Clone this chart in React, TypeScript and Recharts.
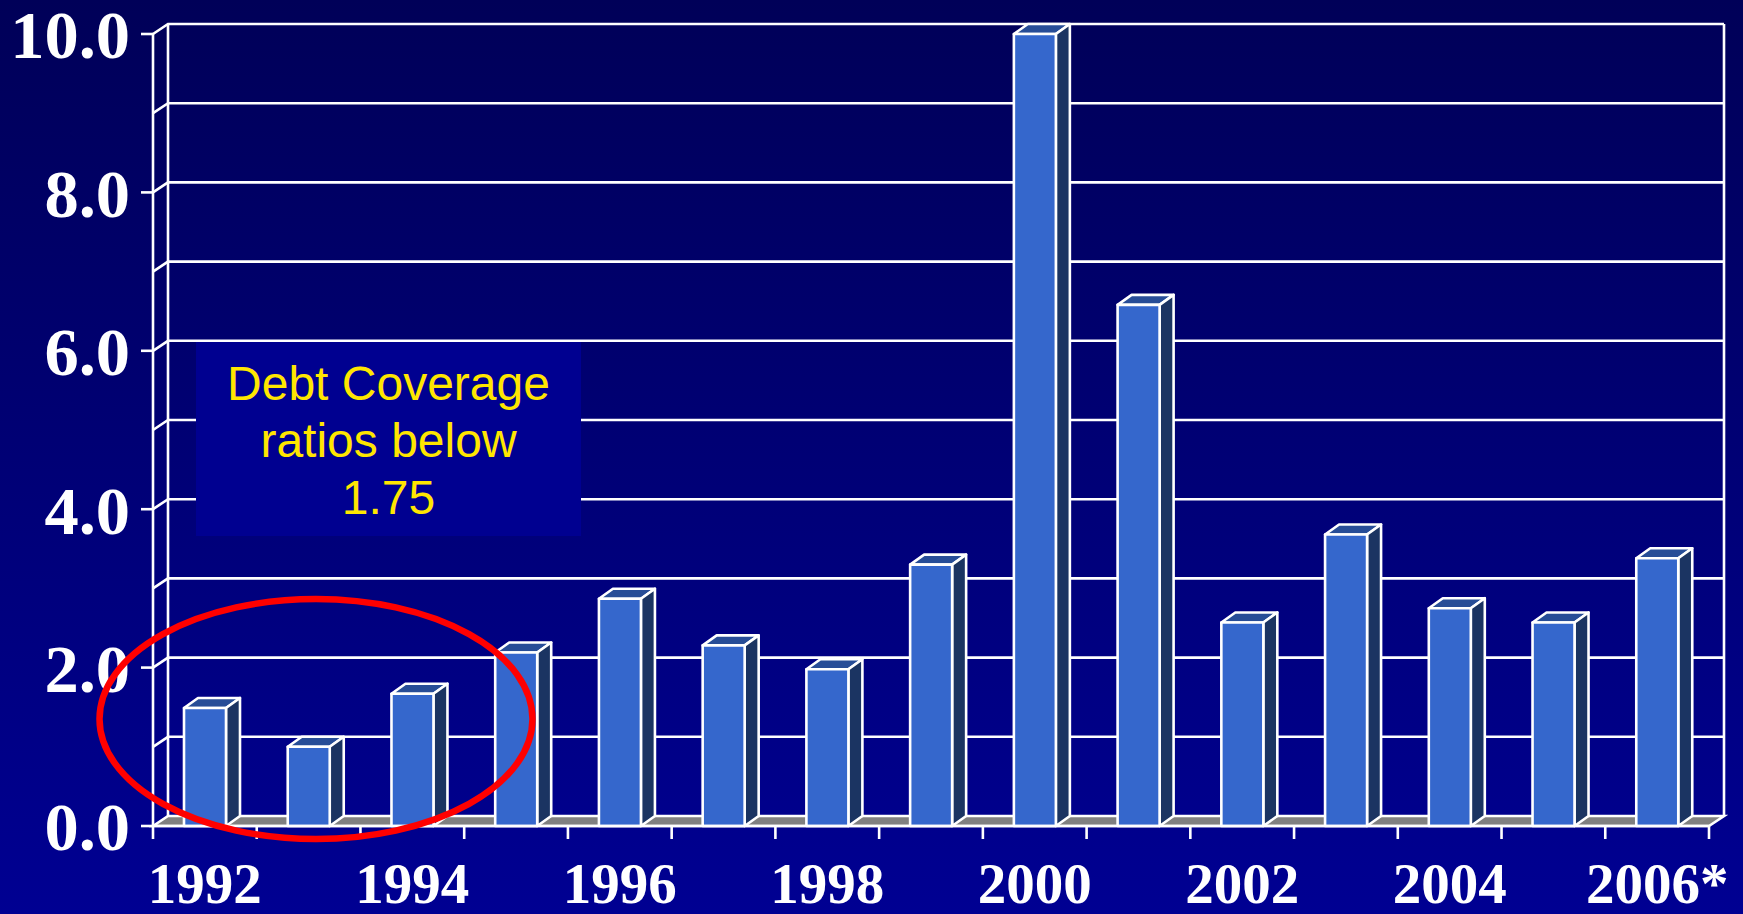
import React from "react";
import { BarChart, Bar, XAxis, YAxis, CartesianGrid } from "recharts";

const years = ["1992", "1993", "1994", "1995", "1996", "1997", "1998", "1999", "2000", "2001", "2002", "2003", "2004", "2005", "2006*"];
const ratios = [1.49, 1.0, 1.67, 2.19, 2.87, 2.28, 1.98, 3.3, 10.0, 6.58, 2.57, 3.68, 2.75, 2.57, 3.38];
const yTicks = [0, 2, 4, 6, 8, 10];
const gridValues = [0, 1, 2, 3, 4, 5, 6, 7, 8, 9, 10];
const noteLines = ["Debt Coverage", "ratios below", "1.75"];

const WIDTH = 1743;
const HEIGHT = 914;
const LEFT = 153;
const RIGHT = 1709;
const TOP = 34;
const BOTTOM = 826;
const DEPTH_X = 15;
const DEPTH_Y = 10;
const BAND = (RIGHT - LEFT) / years.length;
const STROKE = 2.6;
const SERIF = "'Liberation Serif', serif";

const chartData = years.map((year, i) => ({ year, ratio: ratios[i] }));

// front, top and side faces of one extruded bar
function Bar3D({ x, y, width, height }: any) {
  const dx = 14;
  const dy = DEPTH_Y;
  const right = x + width;
  const bottom = y + height;
  const line = { stroke: "#fff", strokeWidth: STROKE, strokeLinejoin: "round" as const };
  return (
    <g>
      <polygon points={`${x},${y} ${x + dx},${y - dy} ${right + dx},${y - dy} ${right},${y}`} fill="#274d97" {...line} />
      <polygon points={`${right},${y} ${right + dx},${y - dy} ${right + dx},${bottom - dy} ${right},${bottom}`} fill="#1b3462" {...line} />
      <rect x={x} y={y} width={width} height={height} fill="#3567cc" {...line} />
    </g>
  );
}

// back wall line plus the short slant on the left wall; value 0 becomes the floor
function GridLine({ x1, y1, x2 }: any) {
  if (Math.abs(y1 - BOTTOM) < 1) {
    return (
      <polygon
        points={`${x1},${y1} ${x1 + DEPTH_X},${y1 - DEPTH_Y} ${x2 + DEPTH_X},${y1 - DEPTH_Y} ${x2},${y1}`}
        fill="#808080"
        stroke="#fff"
        strokeWidth={STROKE}
      />
    );
  }
  return (
    <polyline
      points={`${x1},${y1} ${x1 + DEPTH_X},${y1 - DEPTH_Y} ${x2 + DEPTH_X},${y1 - DEPTH_Y}`}
      fill="none"
      stroke="#fff"
      strokeWidth={STROKE}
    />
  );
}

function WallLine({ x1, y1, y2 }: any) {
  return <line x1={x1 + DEPTH_X} y1={y1 - DEPTH_Y} x2={x1 + DEPTH_X} y2={y2 - DEPTH_Y} stroke="#fff" strokeWidth={STROKE} />;
}

// ticks sit on the category boundaries, labels on every other centre
function YearTick({ x, y, payload, index }: any) {
  const left = x - BAND / 2;
  const isLast = index === years.length - 1;
  return (
    <g>
      <line x1={left} y1={BOTTOM} x2={left} y2={BOTTOM + 13} stroke="#fff" strokeWidth={STROKE} />
      {isLast && <line x1={left + BAND} y1={BOTTOM} x2={left + BAND} y2={BOTTOM + 13} stroke="#fff" strokeWidth={STROKE} />}
      {index % 2 === 0 && (
        <text x={x} y={y + 75} textAnchor="middle" fill="#fff" fontFamily={SERIF} fontWeight="bold" fontSize={57}>
          {payload.value}
        </text>
      )}
    </g>
  );
}

export default function App() {
  return (
    <div
      style={{
        position: "absolute",
        left: 0,
        top: 0,
        width: WIDTH,
        height: HEIGHT,
        background: "linear-gradient(#000058, #000092)",
      }}
    >
      <BarChart
        width={WIDTH}
        height={HEIGHT}
        data={chartData}
        margin={{ top: TOP, right: WIDTH - RIGHT, bottom: 0, left: 0 }}
        barSize={42}
      >
        <CartesianGrid
          horizontalValues={gridValues}
          verticalCoordinatesGenerator={() => [LEFT, RIGHT]}
          horizontal={(p: any) => <GridLine key={p.index} {...p} />}
          vertical={(p: any) => <WallLine key={p.index} {...p} />}
        />
        <XAxis
          dataKey="year"
          interval={0}
          height={HEIGHT - BOTTOM}
          axisLine={{ stroke: "#fff", strokeWidth: STROKE }}
          tickLine={false}
          tickSize={0}
          tick={(p: any) => <YearTick {...p} />}
        />
        <YAxis
          domain={[0, 10]}
          ticks={yTicks}
          width={LEFT}
          interval={0}
          axisLine={{ stroke: "#fff", strokeWidth: STROKE }}
          tickLine={{ stroke: "#fff", strokeWidth: STROKE }}
          tickSize={12}
          tickMargin={11}
          tickFormatter={(v: number) => v.toFixed(1)}
          tick={{ fill: "#fff", fontFamily: SERIF, fontWeight: "bold", fontSize: 68.5 }}
        />
        <Bar dataKey="ratio" isAnimationActive={false} shape={<Bar3D />} />
      </BarChart>

      {/* annotation layer: note box and the red ring over the low years */}
      <svg width={WIDTH} height={HEIGHT} style={{ position: "absolute", left: 0, top: 0 }}>
        <rect x={196} y={342} width={385} height={194} fill="#000090" />
        {noteLines.map((line, i) => (
          <text
            key={line}
            x={388.5}
            y={400 + i * 57}
            textAnchor="middle"
            fill="#ffe600"
            fontFamily="'Liberation Sans', sans-serif"
            fontSize={48}
          >
            {line}
          </text>
        ))}
        <ellipse cx={316} cy={719} rx={216.5} ry={120} fill="none" stroke="#ff0000" strokeWidth={6.5} />
      </svg>
    </div>
  );
}
